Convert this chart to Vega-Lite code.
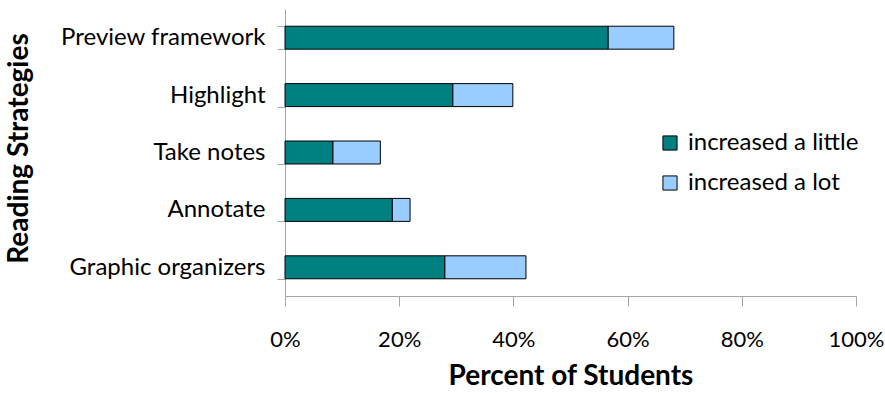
{
  "$schema": "https://vega.github.io/schema/vega-lite/v6.json",
  "autosize": "none",
  "width": 571,
  "height": 287,
  "padding": {"left": 285, "top": 9, "right": 29, "bottom": 97},
  "background": "white",
  "config": {
    "font": "Lato",
    "view": {"stroke": null},
    "axis": {"grid": false, "domainColor": "#a6a6a6", "tickColor": "#a6a6a6", "labelColor": "#000000", "titleColor": "#000000", "labelFont": "Lato", "titleFont": "Lato"}
  },
  "data": {
    "values": [
      {"strategy": "Preview framework", "type": "increased a little", "value": 56.6},
      {"strategy": "Preview framework", "type": "increased a lot", "value": 11.5},
      {"strategy": "Highlight", "type": "increased a little", "value": 29.4},
      {"strategy": "Highlight", "type": "increased a lot", "value": 10.5},
      {"strategy": "Take notes ", "type": "increased a little", "value": 8.4},
      {"strategy": "Take notes ", "type": "increased a lot", "value": 8.3},
      {"strategy": "Annotate", "type": "increased a little", "value": 18.8},
      {"strategy": "Annotate", "type": "increased a lot", "value": 3.1},
      {"strategy": "Graphic organizers", "type": "increased a little", "value": 28.0},
      {"strategy": "Graphic organizers", "type": "increased a lot", "value": 14.2}
    ]
  },
  "mark": {"type": "bar", "stroke": "#000000", "strokeWidth": 1},
  "encoding": {
    "y": {
      "field": "strategy",
      "type": "nominal",
      "sort": ["Preview framework", "Highlight", "Take notes ", "Annotate", "Graphic organizers"],
      "scale": {"paddingInner": 0.6, "paddingOuter": 0.3},
      "axis": {
        "title": "Reading Strategies",
        "titleFontSize": 28,
        "titleFontWeight": "bold",
        "titleX": -266,
        "titleY": 139,
        "titleAngle": -90,
        "titleAlign": "center",
        "titleBaseline": "middle",
        "labelFontSize": 24,
        "labelFontWeight": "normal",
        "labelPadding": 12,
        "labelLimit": 400,
        "tickSize": 8,
        "tickBand": "extent"
      }
    },
    "x": {
      "field": "value",
      "type": "quantitative",
      "stack": "zero",
      "scale": {"domain": [0, 100], "nice": false},
      "axis": {
        "title": "Percent of Students",
        "titleFontSize": 28,
        "titleFontWeight": "bold",
        "titlePadding": 12,
        "labelFontSize": 22,
        "labelPadding": 23,
        "tickSize": 10,
        "values": [0, 20, 40, 60, 80, 100],
        "labelExpr": "datum.value + '%'",
        "labelFlush": false
      }
    },
    "color": {
      "field": "type",
      "type": "nominal",
      "scale": {"domain": ["increased a little", "increased a lot"], "range": ["#008080", "#99ccff"]},
      "legend": {
        "title": null,
        "orient": "none",
        "legendX": 373,
        "legendY": 122,
        "symbolType": "square",
        "symbolSize": 200,
        "symbolStrokeColor": "#000000",
        "symbolStrokeWidth": 1,
        "labelFontSize": 24,
        "labelFont": "Lato",
        "labelColor": "#000000",
        "labelLimit": 400,
        "rowPadding": 16,
        "labelOffset": 6
      }
    },
    "order": {"field": "type", "type": "nominal", "sort": "ascending"}
  }
}
